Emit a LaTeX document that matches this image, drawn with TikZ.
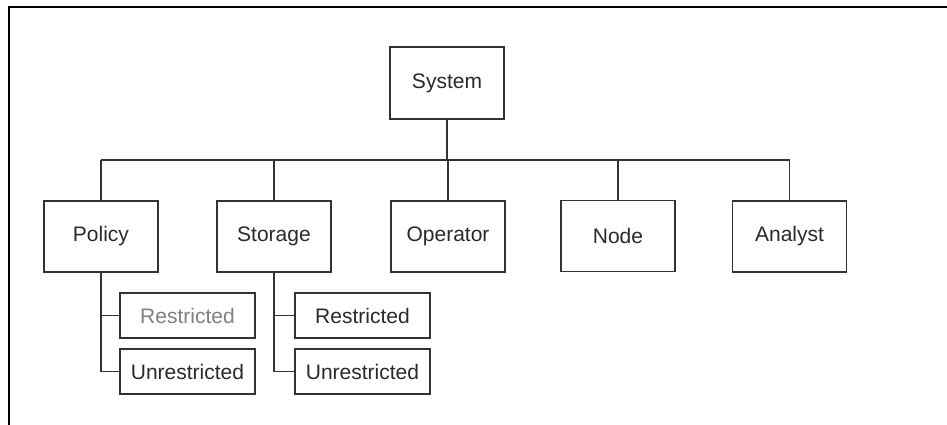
\documentclass[tikz,border=0pt]{standalone}
\usepackage{fontspec}
\setmainfont{Liberation Sans}
\begin{document}
\begin{tikzpicture}[x=1pt,y=1pt,
  line width=1.4pt,
  box/.style={draw=boxline, fill=white, minimum width=114pt, minimum height=71pt, inner sep=0pt, font=\fontsize{21}{24}\selectfont, text=txt},
  sub/.style={draw=boxline, fill=white, minimum width=135pt, minimum height=45pt, inner sep=0pt, font=\fontsize{21}{24}\selectfont, text=txt},
  conn/.style={draw=boxline, line width=1.4pt}]
\definecolor{boxline}{HTML}{333333}
\definecolor{txt}{HTML}{2A2A2A}
\definecolor{faded}{HTML}{808080}
\useasboundingbox (0,0) rectangle (947,-425);
\draw[line width=1.5pt, black] (9,-425) -- (9,-7) -- (947,-7);
\coordinate (bus) at (0,-160);
\node[box, minimum height=72pt] (sys) at (447,-83) {System};
\node[box] (pol) at (101,-236.5) {Policy};
\node[box] (sto) at (274,-236.5) {Storage};
\node[box] (ope) at (448,-236.5) {Operator};
\node[box] (nod) at (618,-236) {Node};
\node[box] (ana) at (789.5,-236.5) {Analyst};
\node[sub, text=faded] (pr) at (187.5,-315.5) {Restricted};
\node[sub] (pu) at (187.5,-371.5) {Unrestricted};
\node[sub] (sr) at (362.5,-315.5) {Restricted};
\node[sub] (su) at (362.5,-371.5) {Unrestricted};
\draw[conn] (sys.south) -- (sys.south |- bus);
\draw[conn] (pol.north |- bus) -- (ana.north |- bus);
\foreach \n in {pol,sto,ope,nod,ana}{\draw[conn] (\n.north) -- (\n.north |- bus);}
\draw[conn] (pol.south) |- (pr.west);
\draw[conn] (pol.south) |- (pu.west);
\draw[conn] (sto.south) |- (sr.west);
\draw[conn] (sto.south) |- (su.west);
\end{tikzpicture}
\end{document}
